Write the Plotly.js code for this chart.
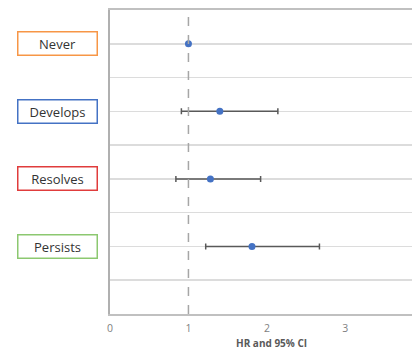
<!DOCTYPE html>
<html>
<head>
<meta charset="utf-8">
<script src="https://cdn.plot.ly/plotly-3.0.1.min.js"></script>
<style>html,body{margin:0;padding:0;background:#fff;overflow:hidden}#chart{width:412px;height:350px}</style>
</head>
<body>
<div id="chart"></div>
<script>
const categories = ["Never", "Develops", "Resolves", "Persists"];
const rowPos = [8, 6, 4, 2];
const hr = [1.0, 1.40, 1.28, 1.81];
const ciLow = [1.0, 0.91, 0.84, 1.22];
const ciHigh = [1.0, 2.14, 1.92, 2.67];
const boxColors = ["#f79646", "#4472c4", "#e03c3c", "#8cc870"];
const xTicks = [0, 1, 2, 3];
const refLine = 1;
const xTitle = "HR and 95% CI";

const plus = hr.map((v, i) => ciHigh[i] - v);
const minus = hr.map((v, i) => v - ciLow[i]);

const trace = {
  type: "scatter",
  mode: "markers",
  x: hr,
  y: rowPos,
  marker: {color: "#4472c4", size: 7},
  error_x: {type: "data", symmetric: false, array: plus, arrayminus: minus,
            color: "#595959", thickness: 1.5, width: 3},
  hoverinfo: "skip",
  showlegend: false
};

const annotations = categories.map((c, i) => ({
  xref: "paper", yref: "y",
  x: (57 - 110) / 302, y: rowPos[i],
  xanchor: "center", yanchor: "middle",
  text: c, showarrow: false,
  font: {family: "Open Sans, Liberation Sans, sans-serif", size: 13, color: "#333333"},
  width: 76, height: 20,
  bordercolor: boxColors[i], borderwidth: 1.5, borderpad: 1,
  bgcolor: "#ffffff"
}));
annotations.push({
  xref: "paper", yref: "paper",
  x: (271 - 110) / 302, y: 0, yshift: -29, yanchor: "middle", xanchor: "center",
  text: "<b>" + xTitle + "</b>", showarrow: false,
  font: {family: "Open Sans, Liberation Sans, sans-serif", size: 10, color: "#595959"}
});

const layout = {
  width: 412, height: 350,
  margin: {l: 110, r: 0, t: 10, b: 36, pad: 0},
  paper_bgcolor: "#ffffff", plot_bgcolor: "#ffffff",
  xaxis: {
    range: [0, 3.85], tickvals: xTicks, ticktext: xTicks.map(String),
    showgrid: false, zeroline: false,
    showline: true, mirror: true, linecolor: "#c0c0c0", linewidth: 2,
    ticks: "", ticklabelstandoff: 3,
    tickfont: {family: "Open Sans, Liberation Sans, sans-serif", size: 10.5, color: "#7f7f7f"},
    fixedrange: true
  },
  yaxis: {
    range: [0, 9], dtick: 1, tick0: 0,
    showticklabels: false, showgrid: true, gridcolor: "#dcdcdc", gridwidth: 1.5,
    zeroline: false, showline: true, linecolor: "#b0b0b0", linewidth: 2,
    fixedrange: true
  },
  shapes: [{
    type: "line", xref: "x", yref: "paper",
    x0: refLine, x1: refLine, y0: 0, y1: 1,
    line: {color: "#a6a6a6", width: 1.5, dash: "dash"}
  }],
  annotations: annotations
};

Plotly.newPlot("chart", [trace], layout, {displayModeBar: false, staticPlot: true});
</script>
</body>
</html>
